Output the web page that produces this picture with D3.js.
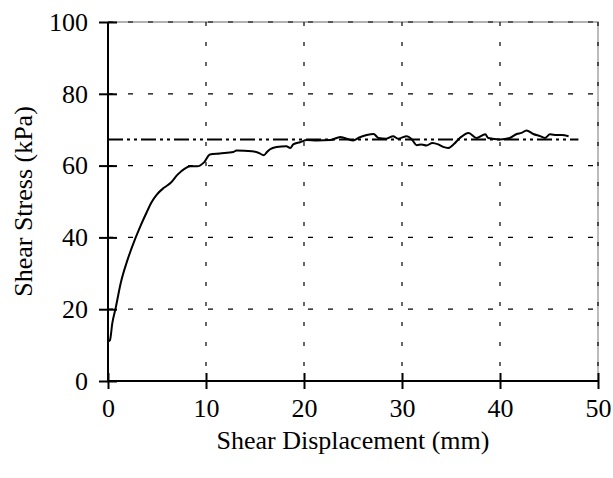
<!DOCTYPE html>
<html>
<head>
<meta charset="utf-8">
<script src="https://cdn.jsdelivr.net/npm/d3@7"></script>
<style>
    body { margin: 0; background: #fff; }
    text { font-family: "Liberation Serif", "Times New Roman", serif; fill: #000; }
</style>
</head>
<body>
<svg></svg>
<script>
// shear displacement (mm) and shear stress (kPa)
const displacement = [0, 0.2, 0.44, 0.78, 1.3, 2.0, 2.8, 3.3, 4.0, 4.4, 5.0, 5.7, 6.4, 7.1, 7.8, 8.4, 9.1, 9.8,
    10.4, 11.4, 12.8, 13.1, 14.7, 15.4, 15.9, 16.2, 16.5, 17.2, 18.2, 18.6, 18.9, 19.6, 20.3, 21.3, 22.7,
    23.7, 25.0, 25.7, 26.4, 27.1, 27.6, 28.4, 29.1, 29.6, 30.5, 31.0, 31.5, 32.0, 32.5, 33.1, 33.7, 34.2,
    34.7, 35.3, 35.9, 36.8, 37.6, 38.5, 38.8, 40.0, 41.0, 41.7, 42.2, 42.7, 43.4, 44.1, 44.6, 45.1, 45.8,
    46.3, 47.0];
const stress = [11.0, 11.4, 16.1, 20.3, 27.3, 33.8, 39.8, 43.1, 47.3, 49.6, 52.0, 53.8, 55.2, 57.5, 59.1, 59.8, 59.8, 60.9,
    63.1, 63.4, 63.8, 64.2, 64.0, 63.5, 62.9, 63.7, 64.5, 65.2, 65.4, 64.9, 65.9, 66.5, 67.1, 67.0, 67.1,
    68.0, 67.0, 67.9, 68.5, 68.8, 67.7, 67.5, 68.2, 67.5, 68.2, 67.3, 65.7, 65.9, 65.6, 66.3, 65.9, 65.2,
    64.9, 66.0, 67.7, 69.1, 67.7, 68.7, 67.7, 67.3, 67.7, 68.8, 69.1, 69.8, 68.8, 68.2, 67.7, 68.7, 68.5,
    68.5, 68.2];

// horizontal dash-dot line (peak strength)
const peakLine = [{x: 0, y: 67.3}, {x: 48, y: 67.3}];

const xTicks = [0, 10, 20, 30, 40, 50];
const yTicks = [0, 20, 40, 60, 80, 100];

const W = 613, H = 478;
const margin = {top: 22, left: 108, right: 15, bottom: 97};
const width = W - margin.left - margin.right;
const height = H - margin.top - margin.bottom;

let svg = d3.select("svg")
    .attr("width", W)
    .attr("height", H);

let g = svg.append("g")
    .attr("transform", `translate(${margin.left}, ${margin.top})`);

let x = d3.scaleLinear().domain([0, 50]).range([0, width]);
let y = d3.scaleLinear().domain([0, 100]).range([height, 0]);

// plot border (top / right), light grey
g.append("path")
    .attr("d", `M0,0H${width}V${height}`)
    .attr("fill", "none")
    .attr("stroke", "#999")
    .attr("stroke-width", 1.3);

// dashed grid
g.append("g").selectAll("line")
    .data(xTicks.slice(1))
    .join("line")
    .attr("x1", d => x(d)).attr("x2", d => x(d))
    .attr("y1", 0).attr("y2", height)
    .attr("stroke", "#000")
    .attr("stroke-width", 1.2)
    .attr("stroke-dasharray", "4,16");

g.append("g").selectAll("line")
    .data(yTicks.slice(1))
    .join("line")
    .attr("x1", 0).attr("x2", width)
    .attr("y1", d => y(d)).attr("y2", d => y(d))
    .attr("stroke", "#000")
    .attr("stroke-width", 1.2)
    .attr("stroke-dasharray", "5,15");

// axes with crossing ticks
let xAxis = g.append("g")
    .attr("transform", `translate(0, ${height})`)
    .call(d3.axisBottom(x).tickValues(xTicks).tickSize(8).tickPadding(10));
xAxis.selectAll(".tick line").attr("y1", -8);

let yAxis = g.append("g")
    .call(d3.axisLeft(y).tickValues(yTicks).tickSize(9).tickPadding(11));
yAxis.selectAll(".tick line").attr("x1", 9);

[xAxis, yAxis].forEach(a => {
    a.attr("font-family", null).attr("font-size", null);
    a.select(".domain").attr("stroke", "#000").attr("stroke-width", 2);
    a.selectAll(".tick line").attr("stroke", "#000").attr("stroke-width", 2);
    a.selectAll(".tick text").style("font-size", "26px");
});
xAxis.select(".domain").attr("d", `M0,0H${width}`);
yAxis.select(".domain").attr("d", `M0,0V${height}`);

// peak line
let line = d3.line()
    .x(d => x(d.x))
    .y(d => y(d.y));

g.append("path")
    .datum(peakLine)
    .attr("d", line)
    .attr("fill", "none")
    .attr("stroke", "#000")
    .attr("stroke-width", 2)
    .attr("stroke-dasharray", "15,4,3,4,3,4");

// test curve
g.append("path")
    .datum(displacement.map((d, i) => ({x: d, y: stress[i]})))
    .attr("d", line.curve(d3.curveMonotoneX))
    .attr("fill", "none")
    .attr("stroke", "#000")
    .attr("stroke-width", 2)
    .attr("stroke-linejoin", "round");

// axis titles
svg.append("text")
    .attr("x", margin.left + width / 2)
    .attr("y", 449)
    .attr("text-anchor", "middle")
    .style("font-size", "26px")
    .text("Shear Displacement (mm)");

svg.append("text")
    .attr("transform", `translate(32, ${margin.top + height / 2}) rotate(-90)`)
    .attr("text-anchor", "middle")
    .style("font-size", "26px")
    .text("Shear Stress (kPa)");
</script>
</body>
</html>
